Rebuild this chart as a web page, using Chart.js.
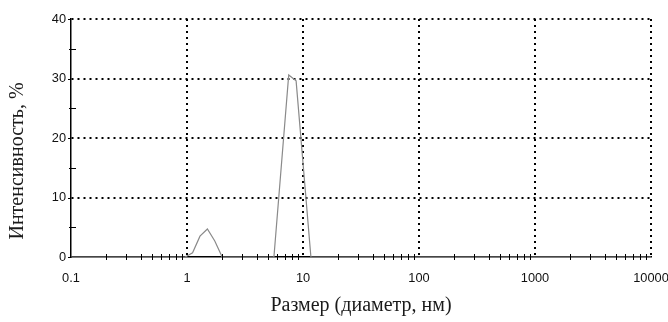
<!DOCTYPE html>
<html>
<head>
<meta charset="UTF-8" />
<script src="https://cdn.jsdelivr.net/npm/chart.js"></script>
<style>
  html, body { margin: 0; padding: 0; background: #fff; }
  #chart { display: block; }
</style>
</head>
<body>
<canvas id="chart" width="668" height="322"></canvas>
<script>
// размеры частиц (нм) и интенсивность (%)
const sizes = [0.1, 0.9649, 1.117, 1.294, 1.499, 1.736, 2.010, 5.615, 7.531, 8.721, 11.70, 10000];
const intensity = [0, 0, 0.7, 3.5, 4.7, 2.7, 0, 0, 30.6, 29.6, 0, 0];

const xMajor = [0.1, 1, 10, 100, 1000, 10000];
const yMajor = [0, 10, 20, 30, 40];
const yMinor = [5, 15, 25, 35];

const xTitle = "Размер (диаметр, нм)";
const yTitle = "Интенсивность, %";

const points = sizes.map((s, i) => ({ x: s, y: intensity[i] }));

// все значения логарифмической шкалы: 1..9 * 10^k
const xTickValues = [];
for (let k = -1; k <= 3; k++) {
  for (let m = 1; m <= 9; m++) xTickValues.push(+(m * Math.pow(10, k)).toPrecision(3));
}
xTickValues.push(10000);

const isMajorX = (v) => xMajor.some((m) => Math.abs(m - v) / m < 1e-6);

// короткие риски, пересекающие оси, и подписи осей
const axisMarks = {
  id: "axisMarks",
  afterDraw(chart) {
    const { ctx, chartArea, scales } = chart;
    const xs = scales.x, ys = scales.y;
    ctx.save();
    ctx.strokeStyle = "#000";
    ctx.lineWidth = 1;
    xTickValues.forEach((v) => {
      if (isMajorX(v)) return;
      const px = Math.round(xs.getPixelForValue(v)) + 0.5;
      ctx.beginPath();
      ctx.moveTo(px, chartArea.bottom - 3);
      ctx.lineTo(px, chartArea.bottom + 3);
      ctx.stroke();
    });
    yMinor.forEach((v) => {
      const py = Math.round(ys.getPixelForValue(v)) + 0.5;
      ctx.beginPath();
      ctx.moveTo(chartArea.left - 2, py);
      ctx.lineTo(chartArea.left + 5, py);
      ctx.stroke();
    });
    yMajor.forEach((v) => {
      const py = Math.round(ys.getPixelForValue(v)) + 0.5;
      ctx.beginPath();
      ctx.moveTo(chartArea.left - 3, py);
      ctx.lineTo(chartArea.left, py);
      ctx.stroke();
    });

    ctx.fillStyle = "#1a1a1a";
    ctx.font = "20px 'Liberation Serif', 'Times New Roman', serif";
    ctx.textAlign = "center";
    ctx.textBaseline = "middle";
    ctx.fillText(xTitle, (chartArea.left + chartArea.right) / 2, 306);
    ctx.translate(18, 161);
    ctx.rotate(-Math.PI / 2);
    ctx.fillText(yTitle, 0, 0);
    ctx.restore();
  },
};

const tickFont = { family: "'Liberation Sans', Arial, sans-serif", size: 12.8 };

new Chart(document.getElementById("chart"), {
  type: "scatter",
  data: {
    datasets: [{
      data: points,
      showLine: true,
      borderColor: "#8a8a8a",
      borderWidth: 1.2,
      pointRadius: 0,
      tension: 0,
    }],
  },
  options: {
    responsive: false,
    animation: false,
    layout: { padding: { top: 19, right: 17, left: 0, bottom: 0 } },
    plugins: { legend: { display: false }, tooltip: { enabled: false } },
    scales: {
      x: {
        type: "logarithmic",
        min: 0.1,
        max: 10000,
        afterBuildTicks: (scale) => {
          scale.ticks = xTickValues.map((v) => ({ value: v, major: isMajorX(v) }));
        },
        afterFit: (scale) => {
          scale.height = 65;
          scale.paddingLeft = 0;
          scale.paddingRight = 0;
        },
        ticks: {
          autoSkip: false,
          maxRotation: 0,
          padding: 13.5,
          color: "#111",
          font: tickFont,
          callback: (v) => (isMajorX(v) ? String(v) : ""),
        },
        grid: {
          drawTicks: false,
          lineWidth: 2,
          color: (c) => (c.tick && isMajorX(c.tick.value) && c.tick.value > 0.1 ? "#000" : "rgba(0,0,0,0)"),
        },
        border: { display: true, color: "#000", width: 1.5, dash: [2, 4] },
      },
      y: {
        min: 0,
        max: 40,
        afterBuildTicks: (scale) => {
          scale.ticks = yMajor.map((v) => ({ value: v }));
        },
        afterFit: (scale) => {
          scale.width = 71;
          scale.paddingTop = 0;
          scale.paddingBottom = 0;
        },
        ticks: {
          padding: 5,
          color: "#111",
          font: tickFont,
        },
        grid: {
          drawTicks: false,
          lineWidth: 2,
          color: (c) => (c.tick && c.tick.value > 0 ? "#000" : "rgba(0,0,0,0)"),
        },
        border: { display: true, color: "#000", width: 1.5, dash: [2, 4] },
      },
    },
  },
  plugins: [axisMarks],
});
</script>
</body>
</html>
